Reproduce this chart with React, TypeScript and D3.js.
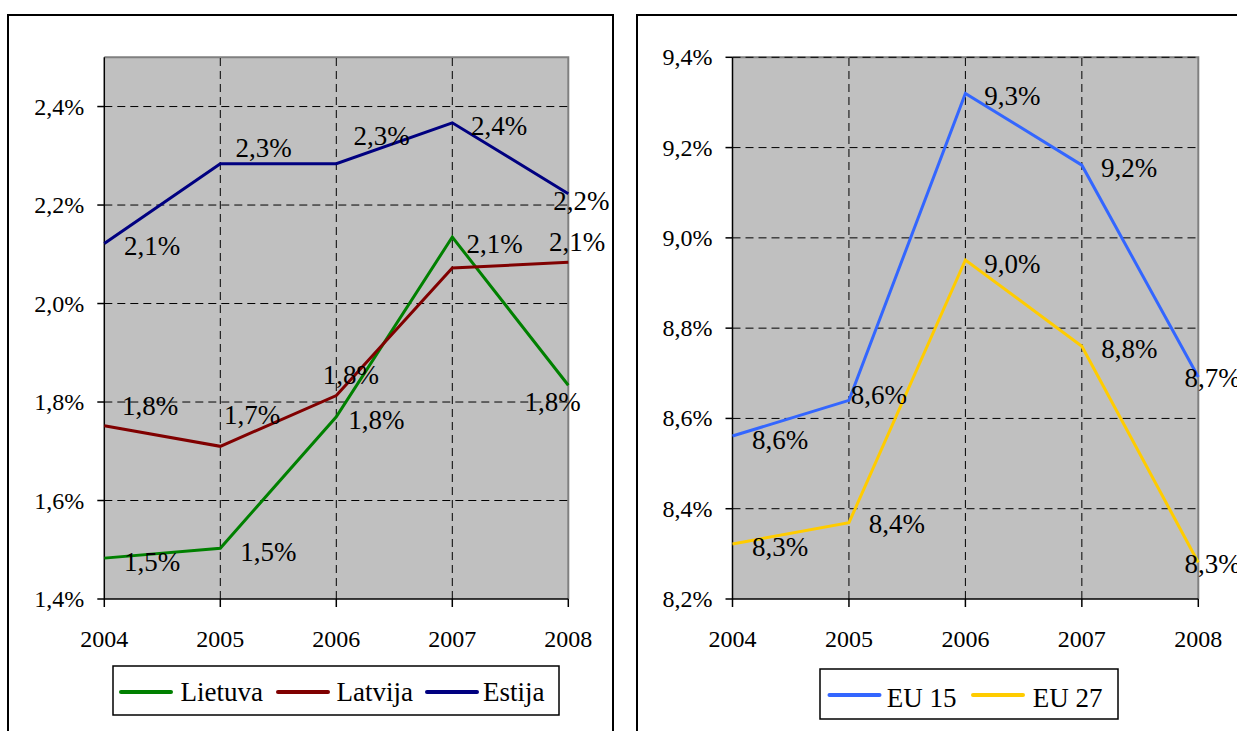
import React from "react";
import * as d3 from "d3";

const years = [2004, 2005, 2006, 2007, 2008];
const lietuva = [1.483, 1.503, 1.77, 2.135, 1.834];
const latvija = [1.752, 1.71, 1.813, 2.072, 2.084];
const estija = [2.122, 2.284, 2.284, 2.367, 2.223];
const eu15 = [8.561, 8.64, 9.32, 9.161, 8.692];
const eu27 = [8.322, 8.369, 8.951, 8.76, 8.281];
const leftTicks = [1.4, 1.6, 1.8, 2.0, 2.2, 2.4];
const rightTicks = [8.2, 8.4, 8.6, 8.8, 9.0, 9.2, 9.4];

// label placement (layout only): [dx of text centre, dy of baseline]
const lietuvaLbl: ([number, number] | null)[] = [[47.7, 12.4], [48, 12.4], [40, 12.3], [42.3, 15.7], [-15.8, 25.6]];
const latvijaLbl: ([number, number] | null)[] = [[45.7, -10.4], [31.7, -22.7], [14.5, -11.7], null, [8.7, -11.6]];
const estijaLbl: ([number, number] | null)[] = [[47.7, 11.7], [43.4, -6.7], [45.3, -18.3], [46.8, 12.4], [13, 16.7]];
const eu15Lbl: ([number, number] | null)[] = [[47.7, 13.3], [30, 3.3], [47, 11.7], [47.3, 11.7], [14.2, 10]];
const eu27Lbl: ([number, number] | null)[] = [[47.7, 11.7], [48, 10.7], [47, 13.3], [47.6, 11.6], [14.2, 10.7]];

const FONT = "'Liberation Serif', 'Times New Roman', serif";
const fmt = (v: number) => d3.format(".1f")(v).replace(".", ",") + "%";

type Series = { name: string; values: number[]; color: string; labels: ([number, number] | null)[] };

function Plot(props: {
  x0: number; x1: number; y0: number; y1: number; domain: [number, number];
  ticks: number[]; series: Series[];
}) {
  const { x0, x1, y0, y1, domain, ticks, series } = props;
  const x = d3.scaleLinear().domain([years[0], years[years.length - 1]]).range([x0, x1]);
  const y = d3.scaleLinear().domain(domain).range([y0, y1]);
  const line = d3.line<number>().x((_, i) => x(years[i])).y((d) => y(d));
  return (
    <g>
      <rect x={x0} y={y1} width={x1 - x0} height={y0 - y1} fill="#C0C0C0" />
      <path d={`M${x0},${y1}H${x1}V${y0}`} fill="none" stroke="#808080" strokeWidth={2} />
      {ticks.filter((t) => t !== domain[0]).map((t) => (
        <line key={"h" + t} x1={x0} x2={x1} y1={y(t)} y2={y(t)} stroke="#000" strokeWidth={1} strokeDasharray="8,5" />
      ))}
      {years.slice(1, -1).map((yr) => (
        <line key={"v" + yr} x1={x(yr)} x2={x(yr)} y1={y0} y2={y1} stroke="#000" strokeWidth={1} strokeDasharray="8,5" />
      ))}
      <line x1={x0} x2={x0} y1={y0} y2={y1} stroke="#000" strokeWidth={1.5} />
      <line x1={x0} x2={x1} y1={y0} y2={y0} stroke="#000" strokeWidth={1.5} />
      {ticks.map((t) => (
        <g key={"yt" + t}>
          <line x1={x0 - 7} x2={x0} y1={y(t)} y2={y(t)} stroke="#000" strokeWidth={1.5} />
          <text x={x0 - 20} y={y(t) + 8} textAnchor="end" fontFamily={FONT} fontSize={24} fill="#000">
            {fmt(t)}
          </text>
        </g>
      ))}
      {years.map((yr) => (
        <g key={"xt" + yr}>
          <line x1={x(yr)} x2={x(yr)} y1={y0} y2={y0 + 8} stroke="#000" strokeWidth={1.5} />
          <text x={x(yr)} y={647} textAnchor="middle" fontFamily={FONT} fontSize={24} fill="#000">
            {yr}
          </text>
        </g>
      ))}
      {series.map((s) => (
        <path key={s.name} d={line(s.values) || ""} fill="none" stroke={s.color} strokeWidth={3} strokeLinejoin="miter" />
      ))}
      {series.map((s) =>
        s.values.map((v, i) => {
          const o = s.labels[i];
          if (!o) return null;
          return (
            <text key={s.name + i} x={x(years[i]) + o[0]} y={y(v) + o[1]} textAnchor="middle" fontFamily={FONT} fontSize={27} fill="#000">
              {fmt(v)}
            </text>
          );
        })
      )}
    </g>
  );
}

function Legend(props: { x: number; y: number; w: number; h: number; items: { name: string; color: string; lx: number; tx: number }[]; ly: number; ty: number }) {
  const { x, y, w, h, items, ly, ty } = props;
  return (
    <g>
      <rect x={x} y={y} width={w} height={h} fill="#fff" stroke="#000" strokeWidth={1.5} />
      {items.map((it) => (
        <g key={it.name}>
          <line x1={it.lx} x2={it.lx + 50} y1={ly} y2={ly} stroke={it.color} strokeWidth={4} strokeLinecap="round" />
          <text x={it.tx} y={ty} fontFamily={FONT} fontSize={27} fill="#000">{it.name}</text>
        </g>
      ))}
    </g>
  );
}

export default function App() {
  const leftSeries: Series[] = [
    { name: "Lietuva", values: lietuva, color: "#008000", labels: lietuvaLbl },
    { name: "Latvija", values: latvija, color: "#800000", labels: latvijaLbl },
    { name: "Estija", values: estija, color: "#000080", labels: estijaLbl },
  ];
  const rightSeries: Series[] = [
    { name: "EU 15", values: eu15, color: "#3366FF", labels: eu15Lbl },
    { name: "EU 27", values: eu27, color: "#FFCC00", labels: eu27Lbl },
  ];
  return (
    <div style={{ position: "fixed", left: 0, top: 0 }}>
      <svg width={1237} height={731} style={{ display: "block", background: "#fff" }}>
        <rect x={8} y={15} width={605} height={740} fill="#fff" stroke="#000" strokeWidth={2} />
        <rect x={637} y={15} width={660} height={740} fill="#fff" stroke="#000" strokeWidth={2} />
        <Plot x0={104.3} x1={568.3} y0={599} y1={57.3} domain={[1.4, 2.5]} ticks={leftTicks} series={leftSeries} />
        <Plot x0={732.5} x1={1198.3} y0={599} y1={57.3} domain={[8.2, 9.4]} ticks={rightTicks} series={rightSeries} />
        <Legend
          x={113} y={666} w={446} h={49} ly={692} ty={701}
          items={[
            { name: "Lietuva", color: "#008000", lx: 121, tx: 180.5 },
            { name: "Latvija", color: "#800000", lx: 278, tx: 336.5 },
            { name: "Estija", color: "#000080", lx: 427, tx: 483 },
          ]}
        />
        <Legend
          x={820} y={669} w={298} h={50} ly={695} ty={706.5}
          items={[
            { name: "EU 15", color: "#3366FF", lx: 829.5, tx: 886.7 },
            { name: "EU 27", color: "#FFCC00", lx: 973, tx: 1032.7 },
          ]}
        />
      </svg>
    </div>
  );
}
